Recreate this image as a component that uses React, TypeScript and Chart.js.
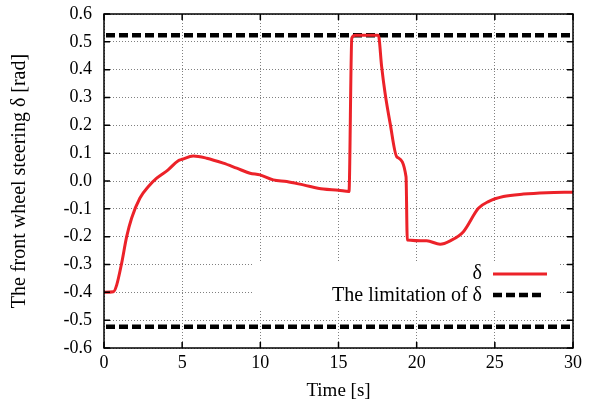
import React, { useEffect, useRef } from "react";
import { Chart, registerables } from "chart.js";
Chart.register(...registerables);

const timeS = [0, 0.6, 0.81, 1.13, 1.45, 1.77, 2.3, 2.84, 3.37, 4.1, 4.75, 5.0, 5.71, 6.57, 7.63, 8.49, 9.34, 9.98, 10.83, 11.69, 12.75, 14.03, 15.0, 15.67, 15.85, 16.06, 17.55, 17.76, 17.98, 18.3, 18.73, 19.32, 19.4, 20.64, 21.5, 22.14, 22.99, 23.95, 24.59, 25.55, 26.83, 28.32, 30];
const deltaRad = [-0.4, -0.398, -0.374, -0.295, -0.2, -0.133, -0.061, -0.02, 0.01, 0.04, 0.073, 0.078, 0.09, 0.082, 0.064, 0.046, 0.028, 0.022, 0.004, -0.002, -0.014, -0.029, -0.033, -0.038, 0.513, 0.5236, 0.5236, 0.411, 0.315, 0.208, 0.087, 0.015, -0.212, -0.215, -0.227, -0.215, -0.182, -0.098, -0.074, -0.056, -0.047, -0.042, -0.04];
const limitRad = 0.5236;
const limitT = [0, 30];
const xTicks = [0, 5, 10, 15, 20, 25, 30];
const yTicks = [-0.6, -0.5, -0.4, -0.3, -0.2, -0.1, 0, 0.1, 0.2, 0.3, 0.4, 0.5, 0.6];
const legendLabels = ["δ", "The limitation of δ"];
const xTitle = "Time [s]";
const yTitle = "The front wheel steering δ [rad]";

const FONT = "'Liberation Serif', 'Times New Roman', serif";
const RED = "#ec2229";
const DASH = [9, 4];

const framePlugin = {
  id: "frame",
  beforeDatasetsDraw(chart: any) {
    const ctx = chart.ctx;
    ctx.save();
    ctx.fillStyle = "#ffffff";
    ctx.fillRect(252, 262, 308, 48);
    ctx.restore();
  },
  afterDatasetsDraw(chart: any) {
    const ctx = chart.ctx;
    const { left, right, top, bottom } = chart.chartArea;
    const xs = chart.scales.x;
    const ys = chart.scales.y;
    ctx.save();
    ctx.strokeStyle = "#000";
    ctx.lineWidth = 1.5;
    ctx.beginPath();
    for (const v of yTicks) {
      const y = ys.getPixelForValue(v);
      ctx.moveTo(left, y); ctx.lineTo(left + 6, y);
      ctx.moveTo(right, y); ctx.lineTo(right - 6, y);
    }
    for (const v of xTicks) {
      const x = xs.getPixelForValue(v);
      ctx.moveTo(x, bottom); ctx.lineTo(x, bottom - 6);
      ctx.moveTo(x, top); ctx.lineTo(x, top + 6);
    }
    ctx.stroke();
    ctx.strokeRect(left, top, right - left, bottom - top);
    // legend
    ctx.font = `20px ${FONT}`;
    ctx.fillStyle = "#000";
    ctx.textAlign = "right";
    ctx.textBaseline = "alphabetic";
    ctx.fillText(legendLabels[0], 482, 279);
    ctx.fillText(legendLabels[1], 482, 301);
    ctx.lineWidth = 3;
    ctx.strokeStyle = RED;
    ctx.beginPath(); ctx.moveTo(493, 274); ctx.lineTo(547, 274); ctx.stroke();
    ctx.lineWidth = 4.5;
    ctx.strokeStyle = "#000";
    ctx.setLineDash(DASH);
    ctx.beginPath(); ctx.moveTo(493, 295); ctx.lineTo(544, 295); ctx.stroke();
    ctx.restore();
  },
};

export default function App() {
  const ref = useRef<HTMLCanvasElement>(null);
  useEffect(() => {
    const chart = new Chart(ref.current!, {
      type: "line",
      data: {
        datasets: [
          {
            label: legendLabels[0],
            data: timeS.map((t, i) => ({ x: t, y: deltaRad[i] })),
            borderColor: RED,
            borderWidth: 3,
            pointRadius: 0,
            cubicInterpolationMode: "monotone",
          },
          {
            label: legendLabels[1],
            data: limitT.map((t) => ({ x: t, y: limitRad })),
            borderColor: "#000",
            borderWidth: 4.5,
            borderDash: DASH,
            borderDashOffset: -2,
            pointRadius: 0,
          },
          {
            label: "lower",
            data: limitT.map((t) => ({ x: t, y: -limitRad })),
            borderColor: "#000",
            borderWidth: 4.5,
            borderDash: DASH,
            borderDashOffset: -2,
            pointRadius: 0,
          },
        ],
      } as any,
      options: {
        animation: false,
        responsive: false,
        layout: { padding: { top: 14, right: 24, left: 0, bottom: 0 } },
        plugins: { legend: { display: false }, tooltip: { enabled: false } },
        scales: {
          x: {
            type: "linear",
            min: 0,
            max: 30,
            afterBuildTicks: (s: any) => { s.ticks = xTicks.map((v) => ({ value: v })); },
            afterFit: (s: any) => { s.height = 64; s.paddingLeft = 0; s.paddingRight = 0; },
            grid: { color: "#808080", lineWidth: 1, drawTicks: false },
            border: { display: false, dash: [1, 2] },
            ticks: { color: "#000", font: { family: FONT, size: 18 }, padding: 4, maxRotation: 0, callback: (v: any) => String(v) },
            title: { display: true, text: xTitle, color: "#000", font: { family: FONT, size: 19 }, padding: { top: 0, bottom: 10 } },
          },
          y: {
            type: "linear",
            min: -0.6,
            max: 0.6,
            afterBuildTicks: (s: any) => { s.ticks = yTicks.map((v) => ({ value: v })); },
            afterFit: (s: any) => { s.width = 104; s.paddingTop = 0; s.paddingBottom = 0; },
            grid: { color: "#808080", lineWidth: 1, drawTicks: false },
            border: { display: false, dash: [1, 2] },
            ticks: { color: "#000", font: { family: FONT, size: 18 }, padding: 12, callback: (v: any) => Number(v).toFixed(1) },
            title: { display: true, text: yTitle, color: "#000", font: { family: FONT, size: 20 }, padding: { top: 8, bottom: 0 } },
          },
        },
      },
      plugins: [framePlugin],
    } as any);
    return () => chart.destroy();
  }, []);
  return (
    <div style={{ position: "absolute", left: 0, top: 0, width: 597, height: 412, background: "#fff" }}>
      <canvas ref={ref} width={597} height={412} style={{ display: "block" }} />
    </div>
  );
}
